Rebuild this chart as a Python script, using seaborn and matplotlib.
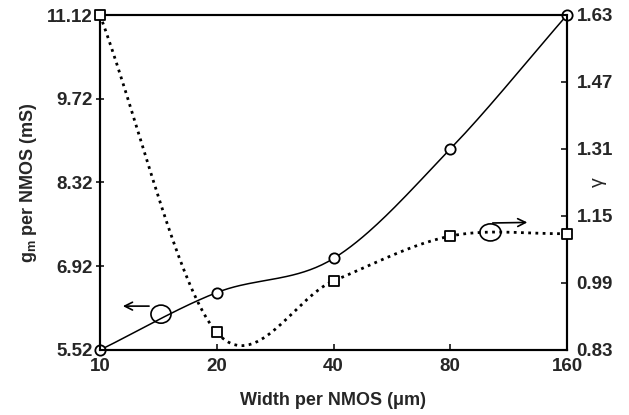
import numpy as np
import pandas as pd
import seaborn as sns
import matplotlib.pyplot as plt
from matplotlib.patches import Ellipse

# values
width_um = [10, 20, 40, 80, 160]
gm_ms = [5.52, 6.48, 7.05, 8.88, 11.12]
gamma = [1.63, 0.872, 0.995, 1.102, 1.108]
x_ticks = [10, 20, 40, 80, 160]
gm_ticks = [5.52, 6.92, 8.32, 9.72, 11.12]
gamma_ticks = [0.83, 0.99, 1.15, 1.31, 1.47, 1.63]


def smooth(xs, ys, n=40):
    # Catmull-Rom curve through the points, in log2(x) space (like a smoothed line)
    lx = np.log2(xs)
    y = np.asarray(ys, float)
    py = np.concatenate([[2 * y[0] - y[1]], y, [2 * y[-1] - y[-2]]])
    out_x, out_y = [], []
    for i in range(len(y) - 1):
        t = np.linspace(0, 1, n, endpoint=(i == len(y) - 2))
        m0 = (py[i + 2] - py[i]) / 2
        m1 = (py[i + 3] - py[i + 1]) / 2
        h00 = 2 * t**3 - 3 * t**2 + 1
        h10 = t**3 - 2 * t**2 + t
        h01 = -2 * t**3 + 3 * t**2
        h11 = t**3 - t**2
        out_y.extend(h00 * y[i] + h10 * m0 + h01 * y[i + 1] + h11 * m1)
        out_x.extend(2 ** (lx[i] + t * (lx[i + 1] - lx[i])))
    return pd.DataFrame({'x': out_x, 'y': out_y})


sns.set_style('ticks')
plt.rcParams['font.family'] = ['Liberation Sans', 'DejaVu Sans']
plt.rcParams['font.weight'] = 'bold'
plt.rcParams['mathtext.fontset'] = 'custom'
plt.rcParams['mathtext.rm'] = 'Liberation Sans:bold'
plt.rcParams['mathtext.it'] = 'Liberation Sans:bold'

fig = plt.figure(figsize=(6.29, 4.15), dpi=100)
ax1 = fig.add_axes([100 / 629, 65 / 415, 467 / 629, 335 / 415])
ax2 = ax1.twinx()

gm_curve = smooth(width_um, gm_ms)
gamma_curve = smooth(width_um, gamma)

sns.lineplot(data=gm_curve, x='x', y='y', ax=ax1, sort=False, estimator=None,
             color='black', linewidth=1.1)
sns.scatterplot(x=width_um, y=gm_ms, ax=ax1, marker='o', s=55, facecolor='white',
                edgecolor='black', linewidth=1.3, zorder=5, clip_on=False)

sns.lineplot(data=gamma_curve, x='x', y='y', ax=ax2, sort=False, estimator=None,
             color='black', linewidth=2.0, linestyle=(0, (1, 1.6)))
sns.scatterplot(x=width_um, y=gamma, ax=ax2, marker='s', s=50, facecolor='white',
                edgecolor='black', linewidth=1.3, zorder=5, clip_on=False)

ax1.set_xscale('log', base=2)
ax1.set_xlim(10, 160)
ax1.set_xticks(x_ticks)
ax1.set_xticklabels([str(v) for v in x_ticks])
ax1.minorticks_off()
ax1.set_ylim(5.52, 11.12)
ax1.set_yticks(gm_ticks)
ax1.set_yticklabels([f'{v:.2f}' for v in gm_ticks])
ax2.set_ylim(0.83, 1.63)
ax2.set_yticks(gamma_ticks)
ax2.set_yticklabels([f'{v:.2f}' for v in gamma_ticks])

for ax in (ax1, ax2):
    for sp in ax.spines.values():
        sp.set_visible(True)
        sp.set_linewidth(1.5)
        sp.set_color('black')
ax1.tick_params(axis='x', direction='in', length=4, width=1.3, pad=6, labelsize=13.5)
ax1.tick_params(axis='y', direction='inout', length=6, width=1.3, pad=2, labelsize=13.5)
ax2.tick_params(axis='y', direction='in', length=4, width=1.3, pad=7, labelsize=13.5)

ax1.set_xlabel('Width per NMOS (\u03bcm)', fontsize=13, fontweight='bold', labelpad=12)
ax1.set_ylabel('g$_\\mathrm{m}$ per NMOS (mS)', fontsize=13, fontweight='bold', labelpad=6)
ax2.set_ylabel('\u03b3', fontsize=14, fontweight='normal', rotation=90)
ax2.yaxis.set_label_coords(1.049, 0.5)

# annotation ellipses and arrows
ax1.add_patch(Ellipse((0.1306, 0.107), 0.043, 0.054, transform=ax1.transAxes,
                      fill=False, edgecolor='black', linewidth=1.2, zorder=6))
ax1.annotate('', xy=(0.043, 0.131), xytext=(0.111, 0.131), xycoords='axes fraction',
             arrowprops=dict(arrowstyle='->', color='black', lw=1.2, mutation_scale=14))
ax1.add_patch(Ellipse((0.836, 0.351), 0.045, 0.051, transform=ax1.transAxes,
                      fill=False, edgecolor='black', linewidth=1.2, zorder=6))
ax1.annotate('', xy=(0.921, 0.381), xytext=(0.835, 0.379), xycoords='axes fraction',
             arrowprops=dict(arrowstyle='->', color='black', lw=1.2, mutation_scale=14))

plt.savefig('out.png', dpi=100)
